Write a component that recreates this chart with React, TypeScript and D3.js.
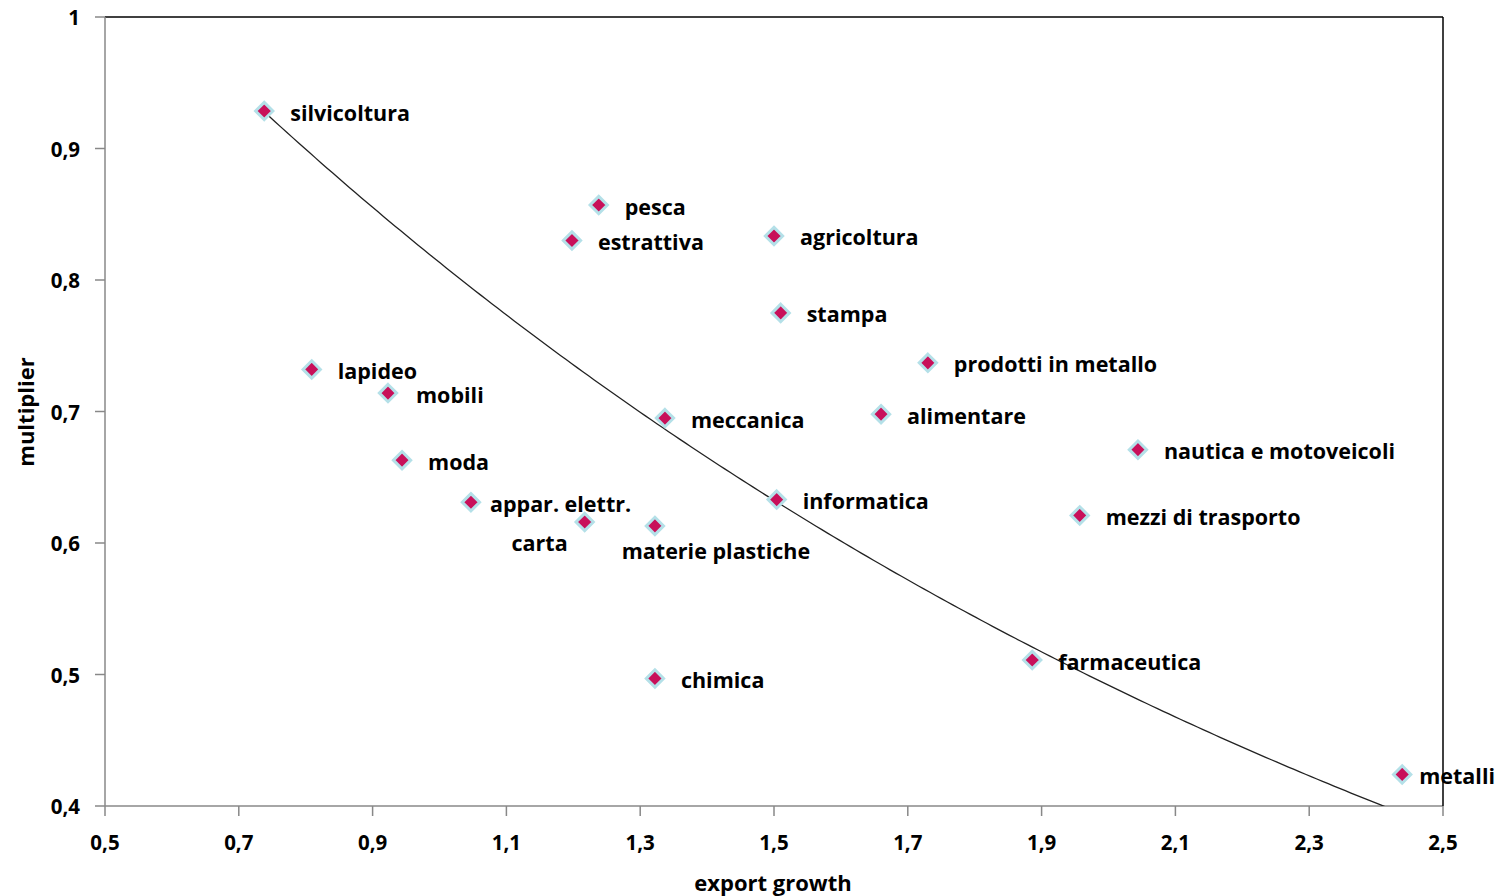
import React from "react";
import * as d3 from "d3";

const sectors = [
  "silvicoltura", "pesca", "estrattiva", "agricoltura", "stampa", "prodotti in metallo",
  "lapideo", "mobili", "meccanica", "alimentare", "nautica e motoveicoli", "moda",
  "appar. elettr.", "informatica", "mezzi di trasporto", "carta", "materie plastiche",
  "farmaceutica", "chimica", "metalli",
];
const exportGrowth = [
  0.738, 1.238, 1.198, 1.5, 1.51, 1.73,
  0.809, 0.923, 1.337, 1.66, 2.044, 0.944,
  1.047, 1.504, 1.957, 1.217, 1.322,
  1.886, 1.322, 2.439,
];
const multiplier = [
  0.9285, 0.857, 0.830, 0.8335, 0.775, 0.737,
  0.732, 0.714, 0.695, 0.698, 0.671, 0.663,
  0.631, 0.633, 0.621, 0.616, 0.613,
  0.511, 0.497, 0.424,
];
const xTicks = [0.5, 0.7, 0.9, 1.1, 1.3, 1.5, 1.7, 1.9, 2.1, 2.3, 2.5];
const yTicks = [0.4, 0.5, 0.6, 0.7, 0.8, 0.9, 1];

// exponential trendline: y = a * exp(b * x)
const trendA = 1.345;
const trendB = -0.503;

// label placement tweaks (default: to the right of the marker)
const labelPlacement: Record<string, { dx: number; dy: number; anchor: string }> = {
  carta: { dx: -17, dy: 21, anchor: "end" },
  "materie plastiche": { dx: 61, dy: 25, anchor: "middle" },
  metalli: { dx: 17, dy: 1, anchor: "start" },
  "appar. elettr.": { dx: 19, dy: 1, anchor: "start" },
  mobili: { dx: 28, dy: 1, anchor: "start" },
};

const W = 1501;
const H = 896;
const M = { left: 105, right: 1443, top: 17, bottom: 806 };
const FONT = "'Open Sans', Lato, sans-serif";

export default function App() {
  const x = d3.scaleLinear().domain([0.5, 2.5]).range([M.left, M.right]);
  const y = d3.scaleLinear().domain([0.4, 1]).range([M.bottom, M.top]);

  const [x0, x1] = d3.extent(exportGrowth) as [number, number];
  const trend = d3.range(0, 201).map((i) => {
    const xv = x0 + ((x1 - x0) * i) / 200;
    return [xv, trendA * Math.exp(trendB * xv)] as [number, number];
  });
  const line = d3.line<[number, number]>().x((d) => x(d[0])).y((d) => y(d[1]));

  const diamond = d3.symbol().type(d3.symbolDiamond2).size(190)();

  return (
    <svg width={W} height={H} style={{ position: "absolute", left: 0, top: 0, background: "#fff" }}>
      <defs>
        <clipPath id="plot">
          <rect x={M.left} y={M.top} width={M.right - M.left} height={M.bottom - M.top} />
        </clipPath>
      </defs>
      <rect x={0} y={0} width={W} height={H} fill="#fff" />
      {/* axes */}
      <line x1={M.left} x2={M.right} y1={M.top} y2={M.top} stroke="#000" strokeWidth={1.5} />
      <line x1={M.left} x2={M.left} y1={M.top} y2={M.bottom} stroke="#888" strokeWidth={1.5} />
      <line x1={M.left} x2={M.right} y1={M.bottom} y2={M.bottom} stroke="#888" strokeWidth={1.5} />
      {yTicks.map((t) => (
        <g key={"y" + t}>
          <line x1={M.left - 10} x2={M.left} y1={y(t)} y2={y(t)} stroke="#888" strokeWidth={1.5} />
          <text x={80} y={y(t)} textAnchor="end" dominantBaseline="central" fontFamily={FONT} fontWeight={700} fontSize={20.5}>
            {String(t).replace(".", ",")}
          </text>
        </g>
      ))}
      {xTicks.map((t) => (
        <g key={"x" + t}>
          <line x1={x(t)} x2={x(t)} y1={M.bottom} y2={M.bottom + 10} stroke="#888" strokeWidth={1.5} />
          <text x={x(t)} y={842} textAnchor="middle" dominantBaseline="central" fontFamily={FONT} fontWeight={700} fontSize={20.5}>
            {t.toFixed(1).replace(".", ",")}
          </text>
        </g>
      ))}
      <text x={773} y={882} textAnchor="middle" dominantBaseline="central" fontFamily={FONT} fontWeight={700} fontSize={22}>
        export growth
      </text>
      <text transform={`translate(25,412) rotate(-90)`} textAnchor="middle" dominantBaseline="central" fontFamily={FONT} fontWeight={700} fontSize={22}>
        multiplier
      </text>
      {/* trendline */}
      <path d={line(trend) ?? ""} fill="none" stroke="#222" strokeWidth={1.3} clipPath="url(#plot)" />
      {/* points */}
      {sectors.map((s, i) => (
        <path
          key={s}
          d={diamond ?? ""}
          transform={`translate(${x(exportGrowth[i])},${y(multiplier[i])})`}
          fill="#c8105a"
          stroke="#b4e0e8"
          strokeWidth={3}
        />
      ))}
      {sectors.map((s, i) => {
        const p = labelPlacement[s] ?? { dx: 26, dy: 1, anchor: "start" };
        return (
          <text
            key={"l" + s}
            x={x(exportGrowth[i]) + p.dx}
            y={y(multiplier[i]) + p.dy}
            textAnchor={p.anchor as any}
            dominantBaseline="central"
            fontFamily={FONT}
            fontWeight={700}
            fontSize={21.5}
          >
            {s}
          </text>
        );
      })}
      <line x1={M.right} x2={M.right} y1={M.top} y2={M.bottom} stroke="#000" strokeWidth={1.5} />
    </svg>
  );
}
